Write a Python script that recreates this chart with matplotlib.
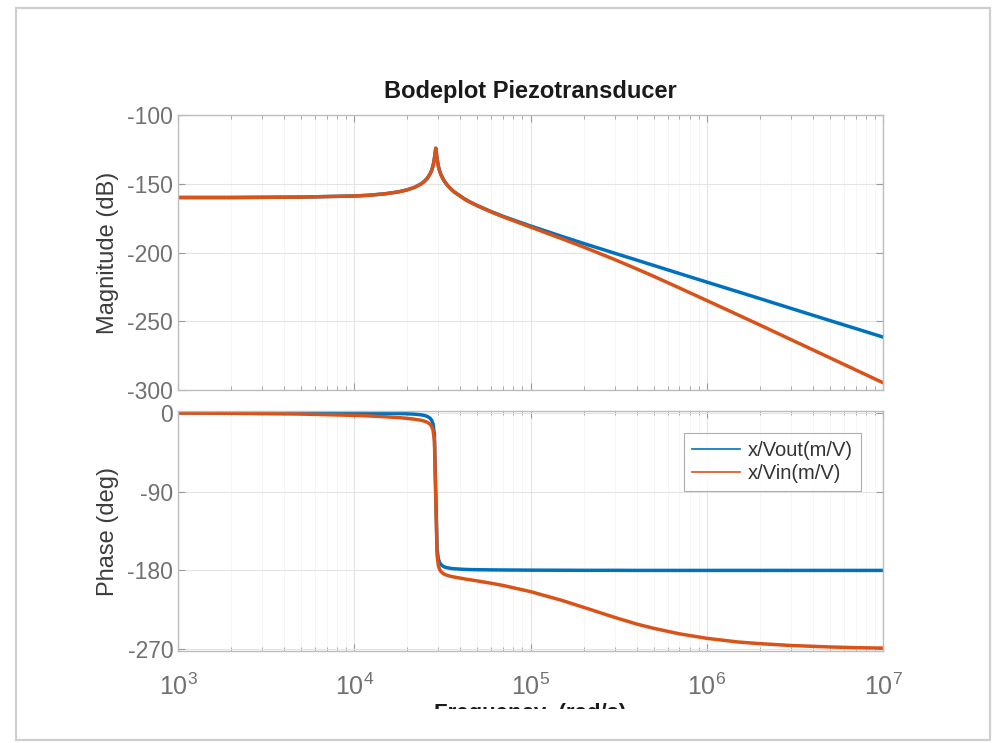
import numpy as np
import matplotlib
matplotlib.use('Agg')
import matplotlib.pyplot as plt
from matplotlib.lines import Line2D
from matplotlib.patches import Rectangle
from matplotlib.ticker import LogLocator, FixedLocator

plt.rcParams['font.family'] = ['Liberation Sans', 'DejaVu Sans']
plt.rcParams['mathtext.fontset'] = 'custom'
plt.rcParams['mathtext.rm'] = 'Liberation Sans'
plt.rcParams['mathtext.it'] = 'Liberation Sans'
plt.rcParams['axes.unicode_minus'] = False

# values (rad/s, dB, deg)
freq = [1e3, 2e3, 5e3, 1e4, 1.2e4, 1.5e4, 1.8e4, 2e4, 2.2e4, 2.4e4, 2.5e4,
        2.6e4, 2.7e4, 2.75e4, 2.8e4, 2.85e4, 2.9e4, 2.95e4, 3.0e4, 3.05e4,
        3.1e4, 3.2e4, 3.3e4, 3.4e4, 3.55e4, 3.7e4, 4.2e4, 4.5e4, 5e4, 6e4,
        7e4, 1e5, 1.5e5, 2e5, 3e5, 4e5, 5e5, 7e5, 1e6, 1.5e6, 2e6, 3e6,
        5e6, 7e6, 1e7]

mag_out = [-160.0, -160.0, -159.7, -158.9, -158.4, -157.3, -155.8, -154.4,
           -152.6, -150.0, -148.2, -145.9, -142.5, -140.2, -136.9, -131.5,
           -124.1, -131.7, -137.2, -140.6, -143.2, -146.8, -149.4, -151.5,
           -154.0, -156.0, -160.8, -163.0, -165.9, -170.3, -173.7, -180.7,
           -188.2, -193.4, -200.5, -205.5, -209.4, -215.3, -221.5, -228.5,
           -233.5, -240.6, -249.5, -255.3, -261.5]

mag_in = [-160.0, -160.0, -159.7, -158.9, -158.4, -157.3, -155.8, -154.4,
          -152.6, -150.1, -148.3, -146.0, -142.6, -140.3, -137.0, -131.6,
          -124.2, -131.8, -137.3, -140.7, -143.3, -146.9, -149.5, -151.6,
          -154.1, -156.1, -161.0, -163.2, -166.1, -170.6, -174.1, -181.5,
          -189.9, -196.0, -205.1, -211.9, -217.3, -225.8, -234.9, -245.3,
          -252.7, -263.3, -276.6, -285.4, -294.7]

ph_out = [0.0, -0.1, -0.2, -0.4, -0.5, -0.7, -0.9, -1.2, -1.6, -2.4, -3.1,
          -4.2, -6.4, -8.6, -12.8, -24.8, -90.0, -154.9, -166.7, -171.0,
          -173.2, -175.4, -176.5, -177.1, -177.8, -178.1, -178.8, -179.0,
          -179.2, -179.4, -179.5, -179.7, -179.8, -179.9, -179.9, -180.0,
          -180.0, -180.0, -180.0, -180.0, -180.0, -180.0, -180.0, -180.0,
          -180.0]

ph_in = [-0.3, -0.6, -1.5, -3.0, -3.6, -4.6, -5.6, -6.4, -7.4, -8.6, -9.6,
         -10.9, -13.4, -15.7, -20.1, -32.2, -97.5, -162.5, -174.5, -178.9,
         -181.2, -183.7, -185.0, -185.9, -186.9, -187.6, -189.6, -190.6,
         -192.0, -194.7, -197.2, -204.2, -214.1, -222.1, -233.6, -241.2,
         -246.1, -252.4, -257.5, -261.7, -263.6, -265.7, -267.4, -268.2,
         -268.7]

series = ['x/Vout(m/V)', 'x/Vin(m/V)']
colors = ['#0072BD', '#D95319']

fig = plt.figure(figsize=(9.92, 7.43), dpi=100)
W, H = 992, 743
ax1 = fig.add_axes([178 / W, 1 - 390 / H, 705 / W, 275 / H])
ax2 = fig.add_axes([178 / W, 1 - 651 / H, 705 / W, 240 / H])

ax1.plot(freq, mag_out, color=colors[0], lw=2.5)
ax1.plot(freq, mag_in, color=colors[1], lw=2.5)
ax2.plot(freq, ph_out, color=colors[0], lw=2.5)
ax2.plot(freq, ph_in, color=colors[1], lw=2.5)

tick_col = '#707070'
for ax in (ax1, ax2):
    ax.set_xscale('log')
    ax.set_xlim(1e3, 1e7)
    ax.xaxis.set_major_locator(LogLocator(base=10))
    ax.xaxis.set_minor_locator(LogLocator(base=10, subs=np.arange(2, 10)))
    ax.grid(True, which='major', color='#e4e4e4', lw=0.8)
    ax.grid(True, which='minor', axis='x', color='#f4f4f4', lw=0.6)
    ax.tick_params(which='both', direction='in', top=True, right=True,
                   colors='#9a9a9a', labelcolor=tick_col, labelsize=16.5)
    ax.tick_params(which='major', length=5)
    ax.tick_params(which='minor', length=3)
    for s in ax.spines.values():
        s.set_color('#bdbdbd')
        s.set_linewidth(1.0)
    ax.set_axisbelow(True)

ax1.set_ylim(-300, -100)
ax1.yaxis.set_major_locator(FixedLocator([-300, -250, -200, -150, -100]))
ax1.tick_params(axis='x', labelbottom=False)
ax1.set_ylabel('Magnitude (dB)', fontsize=17, color='#3c3c3c', labelpad=6)
ax1.set_title('Bodeplot Piezotransducer', fontsize=17, fontweight='bold',
              color='#1a1a1a', pad=12)

ax2.set_ylim(-272, 2)
ax2.yaxis.set_major_locator(FixedLocator([-270, -180, -90, 0]))
ax2.set_ylabel('Phase (deg)', fontsize=17, color='#3c3c3c', labelpad=6)
ax2.tick_params(axis='x', pad=16, labelsize=18)

handles = [Line2D([], [], color=c, lw=1.2) for c in colors]
leg = ax2.legend(handles, series, loc='upper right',
                 bbox_to_anchor=(0.969, 0.908), borderaxespad=0,
                 fontsize=14.5, frameon=True, fancybox=False,
                 handlelength=2.4, handletextpad=0.4, borderpad=0.4,
                 labelspacing=0.2)
leg.get_frame().set_edgecolor('#9a9a9a')
leg.get_frame().set_linewidth(0.8)
for t in leg.get_texts():
    t.set_color('#333333')

# x label, cut off at the bottom as in the screenshot
fig.text(530 / W, 1 - 703 / H, 'Frequency  (rad/s)', fontsize=16,
         fontweight='bold', color='#1a1a1a', ha='center', va='top')
fig.patches.append(Rectangle((0, 0), 1, 1 - 709 / H, transform=fig.transFigure,
                             facecolor='white', edgecolor='none', zorder=5))
fig.patches.append(Rectangle((16 / W, 1 - 740 / H), 974 / W, 732 / H,
                             transform=fig.transFigure, fill=False,
                             edgecolor='#cfcfcf', lw=1.6, zorder=6))

fig.savefig('out.png', dpi=100)
